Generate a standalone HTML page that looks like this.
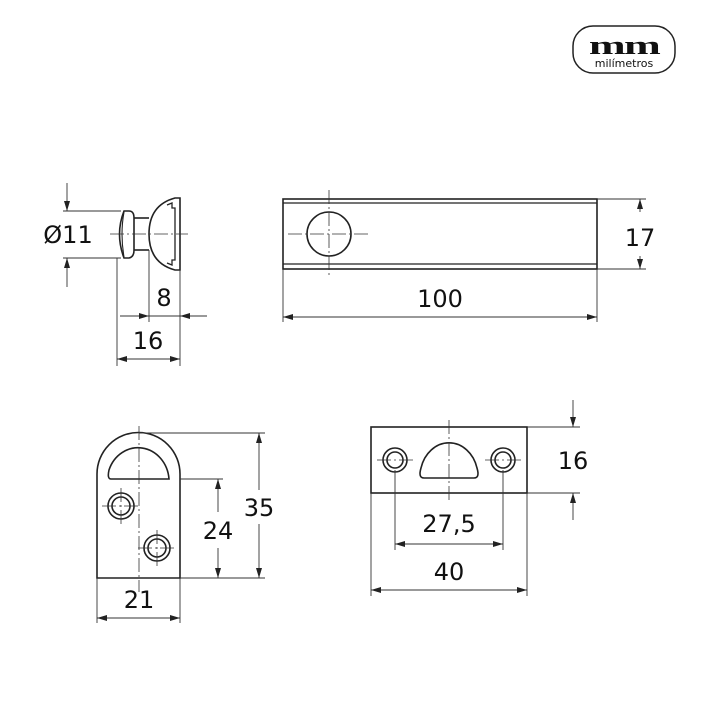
<!DOCTYPE html>
<html><head><meta charset="utf-8"><style>
html,body{margin:0;padding:0;background:#fff;}
svg{display:block;}
text{font-family:"DejaVu Sans","Liberation Sans",sans-serif;fill:#111;}
</style></head><body>
<svg width="720" height="720" viewBox="0 0 720 720" xmlns="http://www.w3.org/2000/svg">
<defs>
<marker id="a" viewBox="0 0 10 6" refX="10" refY="3" markerWidth="10" markerHeight="6" orient="auto-start-reverse" markerUnits="userSpaceOnUse"><path d="M0,0 L10,3 L0,6 z" fill="#222"/></marker>
</defs>
<!-- logo -->
<rect x="573" y="26" width="102" height="47" rx="20" fill="none" stroke="#222" stroke-width="1.5"/>
<text transform="translate(624,54) scale(1.7,1)" text-anchor="middle" font-weight="bold" font-size="26" style="font-family:'Liberation Serif',serif" letter-spacing="-1">mm</text>
<text x="624" y="67" text-anchor="middle" font-size="11">milímetros</text>

<g fill="none" stroke="#222" stroke-width="1.6">
<!-- knob -->
<path d="M124,211 Q115,234 124,258 L129,258 Q134,257 134,250 L134,218 Q134,211 129,211 Z"/>
<path d="M124,212 Q120,234 124,257" stroke-width="1.1"/>
<line x1="134" y1="218" x2="149" y2="218"/><line x1="134" y1="250" x2="149" y2="250"/>
<path d="M180,198 L175,198 Q149,205 149,234 Q149,263 175,270 L180,270 Z"/>
<path d="M167,205 L172,203 L172,208 L175,208 L175,260 L172,260 L172,265 L167,263" stroke-width="1.3"/>
<!-- bar -->
<rect x="283" y="199" width="314" height="70"/>
<line x1="283" y1="203" x2="597" y2="203" stroke-width="1.2"/>
<line x1="283" y1="264" x2="597" y2="264" stroke-width="1.2"/>
<circle cx="329" cy="234" r="22"/>
<!-- bracket -->
<path d="M97,578 L97,474 A41.5,41.5 0 0 1 180,474 L180,578 Z"/>
<path d="M111,479 Q107,479 109,470 A31,34 0 0 1 169,479 Z"/>
<circle cx="121" cy="506" r="13"/><circle cx="121" cy="506" r="9"/>
<circle cx="157" cy="548" r="13"/><circle cx="157" cy="548" r="9"/>
<!-- plate -->
<rect x="371" y="427" width="156" height="66"/>
<circle cx="395" cy="460" r="12"/><circle cx="395" cy="460" r="8"/>
<circle cx="503" cy="460" r="12"/><circle cx="503" cy="460" r="8"/>
<path d="M424,478 Q418,478 421,468 A29,34 0 0 1 477,468 Q480,478 474,478 Z"/>
</g>

<!-- center lines -->
<g stroke="#333" stroke-width="0.8" stroke-dasharray="14,3,2,3" fill="none">
<line x1="110" y1="234" x2="188" y2="234"/>
<line x1="329" y1="190" x2="329" y2="276"/><line x1="288" y1="234" x2="368" y2="234"/>
<line x1="139" y1="426" x2="139" y2="592"/>
<line x1="102" y1="506" x2="141" y2="506"/><line x1="121" y1="488" x2="121" y2="524"/>
<line x1="138" y1="548" x2="176" y2="548"/><line x1="157" y1="530" x2="157" y2="566"/>
<line x1="449" y1="420" x2="449" y2="502"/>
<line x1="377" y1="460" x2="414" y2="460"/><line x1="485" y1="460" x2="521" y2="460"/>
</g>

<!-- extension & dimension lines -->
<g stroke="#333" stroke-width="0.9" fill="none">
<line x1="63" y1="211" x2="121" y2="211"/><line x1="63" y1="258" x2="121" y2="258"/>
<line x1="67" y1="183" x2="67" y2="211" marker-end="url(#a)"/>
<line x1="67" y1="287" x2="67" y2="258" marker-end="url(#a)"/>
<line x1="117" y1="258" x2="117" y2="366"/><line x1="149" y1="250" x2="149" y2="322"/><line x1="180" y1="270" x2="180" y2="366"/>
<line x1="120" y1="316" x2="149" y2="316" marker-end="url(#a)"/>
<line x1="207" y1="316" x2="180" y2="316" marker-end="url(#a)"/>
<line x1="149" y1="316" x2="180" y2="316"/>
<line x1="117" y1="359" x2="180" y2="359" marker-start="url(#a)" marker-end="url(#a)"/>

<line x1="597" y1="199" x2="646" y2="199"/><line x1="597" y1="269" x2="646" y2="269"/>
<line x1="640" y1="212" x2="640" y2="199" marker-end="url(#a)"/>
<line x1="640" y1="256" x2="640" y2="269" marker-end="url(#a)"/>
<line x1="283" y1="269" x2="283" y2="322"/><line x1="597" y1="269" x2="597" y2="322"/>
<line x1="283" y1="317" x2="597" y2="317" marker-start="url(#a)" marker-end="url(#a)"/>

<line x1="139" y1="433" x2="265" y2="433"/><line x1="180" y1="479" x2="223" y2="479"/><line x1="180" y1="578" x2="265" y2="578"/>
<line x1="259" y1="433" x2="259" y2="490" marker-start="url(#a)"/>
<line x1="259" y1="524" x2="259" y2="578" marker-end="url(#a)"/>
<line x1="218" y1="479" x2="218" y2="512" marker-start="url(#a)"/>
<line x1="218" y1="548" x2="218" y2="578" marker-end="url(#a)"/>
<line x1="97" y1="578" x2="97" y2="623"/><line x1="180" y1="578" x2="180" y2="623"/>
<line x1="97" y1="618" x2="180" y2="618" marker-start="url(#a)" marker-end="url(#a)"/>

<line x1="527" y1="427" x2="580" y2="427"/><line x1="527" y1="493" x2="580" y2="493"/>
<line x1="573" y1="400" x2="573" y2="427" marker-end="url(#a)"/>
<line x1="573" y1="520" x2="573" y2="493" marker-end="url(#a)"/>
<line x1="395" y1="470" x2="395" y2="550"/><line x1="503" y1="470" x2="503" y2="550"/>
<line x1="395" y1="544" x2="503" y2="544" marker-start="url(#a)" marker-end="url(#a)"/>
<line x1="371" y1="493" x2="371" y2="596"/><line x1="527" y1="493" x2="527" y2="596"/>
<line x1="371" y1="590" x2="527" y2="590" marker-start="url(#a)" marker-end="url(#a)"/>
</g>

<g font-size="24">
<text x="68" y="243" text-anchor="middle">Ø11</text>
<text x="164" y="306" text-anchor="middle">8</text>
<text x="148" y="349" text-anchor="middle">16</text>
<text x="640" y="246" text-anchor="middle">17</text>
<text x="440" y="307" text-anchor="middle">100</text>
<text x="259" y="516" text-anchor="middle">35</text>
<text x="218" y="539" text-anchor="middle">24</text>
<text x="139" y="608" text-anchor="middle">21</text>
<text x="573" y="469" text-anchor="middle">16</text>
<text x="449" y="532" text-anchor="middle">27,5</text>
<text x="449" y="580" text-anchor="middle">40</text>
</g>
</svg>
</body></html>
